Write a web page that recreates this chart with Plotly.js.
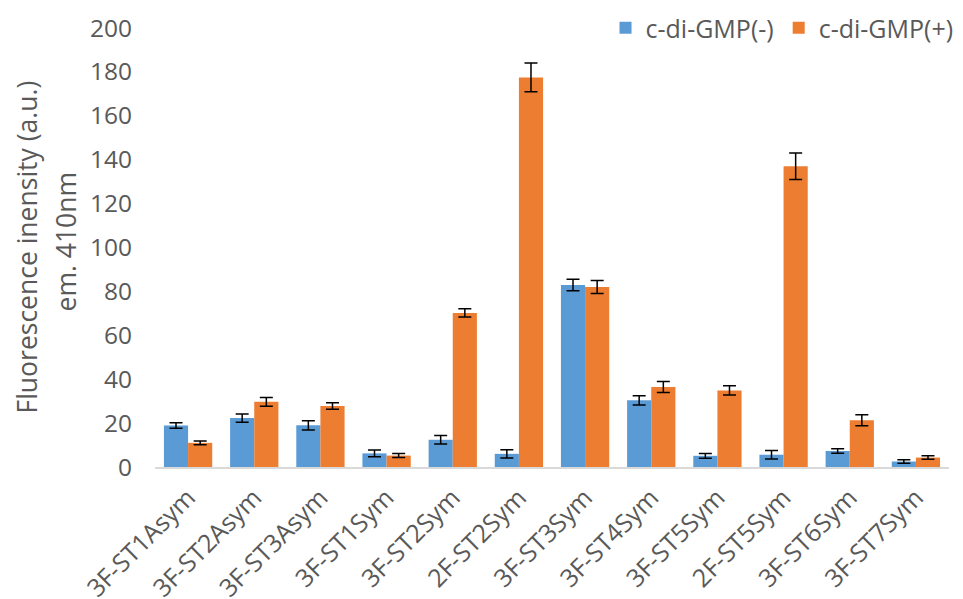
<!DOCTYPE html>
<html>
<head>
<meta charset="utf-8">
<script src="https://cdn.plot.ly/plotly-3.0.1.min.js"></script>
<style>html,body{margin:0;padding:0;background:#fff;}#chart{width:963px;height:599px;}</style>
</head>
<body>
<div id="chart"></div>
<script>
const categories = ["3F-ST1Asym","3F-ST2Asym","3F-ST3Asym","3F-ST1Sym","3F-ST2Sym","2F-ST2Sym","3F-ST3Sym","3F-ST4Sym","3F-ST5Sym","2F-ST5Sym","3F-ST6Sym","3F-ST7Sym"];
const minusValues = [18.9, 22.3, 19.0, 6.2, 12.4, 6.0, 82.9, 30.4, 5.1, 5.6, 7.3, 2.5];
const minusErrors = [1.3, 1.9, 2.1, 1.5, 1.9, 1.9, 2.6, 2.1, 1.1, 1.9, 1.0, 0.8];
const plusValues = [11.0, 29.7, 27.8, 5.2, 70.2, 177.5, 82.0, 36.4, 34.9, 137.0, 21.3, 4.3];
const plusErrors = [0.9, 2.0, 1.5, 0.9, 1.9, 6.5, 3.0, 2.5, 2.1, 6.0, 2.5, 0.8];
const seriesNames = ["c-di-GMP(-)", "c-di-GMP(+)"];
const yTitleLines = ["Fluorescence inensity (a.u.)", "em. 410nm"];

const font = "'Open Sans', sans-serif";
const grey = '#595959';
const errStyle = {type:'data', visible:true, color:'#000000', thickness:1.5, width:6.5};

const traces = [
  {type:'bar', name:seriesNames[0], x:categories, y:minusValues,
   marker:{color:'#5B9BD5'}, error_y:Object.assign({array:minusErrors}, errStyle)},
  {type:'bar', name:seriesNames[1], x:categories, y:plusValues,
   marker:{color:'#ED7D31'}, error_y:Object.assign({array:plusErrors}, errStyle)}
];

const layout = {
  width:963, height:599,
  margin:{l:155, r:4, t:28, b:132},
  paper_bgcolor:'#ffffff', plot_bgcolor:'#ffffff',
  font:{family:font, size:24, color:grey},
  barmode:'group', bargap:0.27, bargroupgap:0,
  showlegend:true,
  legend:{orientation:'h', x:1.012, xanchor:'right', y:1.0, yanchor:'middle',
          font:{family:font, size:25, color:grey}, traceorder:'normal', bgcolor:'rgba(0,0,0,0)'},
  xaxis:{type:'category', tickangle:-45, showgrid:false, showline:true, linecolor:'#d9d9d9', linewidth:2,
         ticks:'', tickfont:{family:font, size:25, color:grey}, ticklabelstandoff:4, automargin:false},
  yaxis:{range:[0,200], dtick:20, tick0:0, showgrid:false, showline:false, zeroline:false,
         ticks:'', tickfont:{family:font, size:24.5, color:grey}, ticklabelstandoff:22, automargin:false},
  annotations:[
    {text:yTitleLines[0], xref:'paper', yref:'paper', x:0, y:0.5, xanchor:'center', yanchor:'middle',
     xshift:-129, textangle:-90, showarrow:false, font:{family:font, size:26.5, color:grey}},
    {text:yTitleLines[1], xref:'paper', yref:'paper', x:0, y:0.5, xanchor:'center', yanchor:'middle',
     xshift:-90, yshift:6, textangle:-90, showarrow:false, font:{family:font, size:26.5, color:grey}}
  ]
};

Plotly.newPlot('chart', traces, layout, {displayModeBar:false, staticPlot:true});
</script>
</body>
</html>
